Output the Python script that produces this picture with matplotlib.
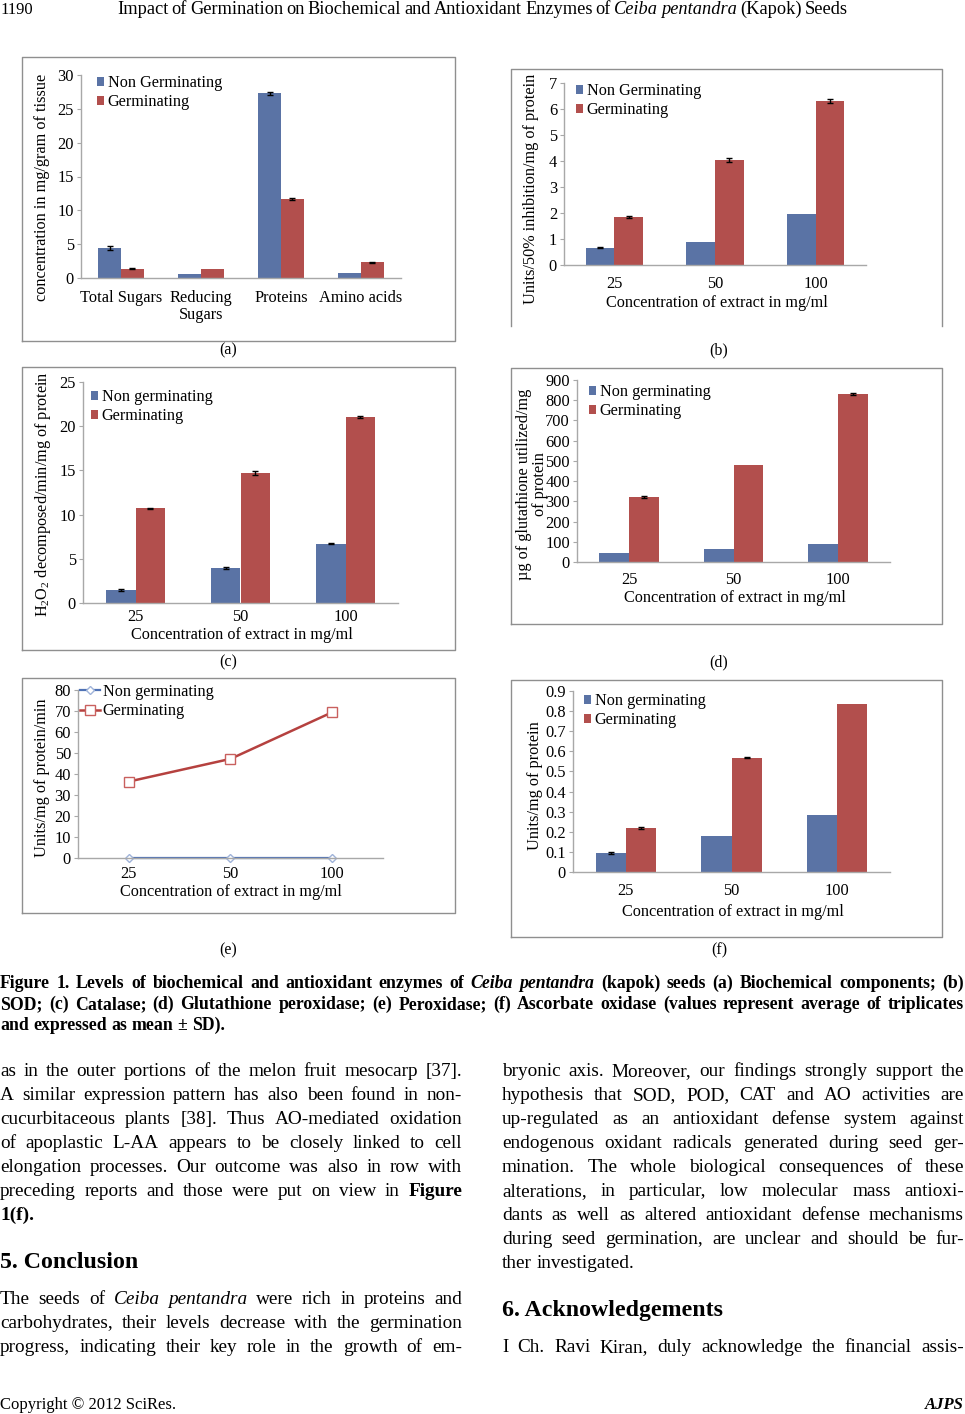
import matplotlib
matplotlib.use("Agg")
import matplotlib.pyplot as plt
import numpy as np
from matplotlib.lines import Line2D

plt.rcParams['font.family'] = ['Liberation Serif', 'DejaVu Serif']
plt.rcParams['mathtext.fontset'] = 'custom'
plt.rcParams['mathtext.rm'] = 'Liberation Serif'
plt.rcParams['mathtext.it'] = 'Liberation Serif:italic'

# ---- data ----
groups = ["25", "50", "100"]

# (a) biochemical components
comp_labels = ["Total Sugars", "Reducing\nSugars", "Proteins", "Amino acids"]
comp_ng = [4.4, 0.6, 27.3, 0.75]
comp_ng_err = [0.3, 0, 0.2, 0]
comp_g = [1.4, 1.3, 11.7, 2.3]
comp_g_err = [0.1, 0, 0.1, 0.05]

# (b) SOD
sod_ng = [0.67, 0.9, 1.96]
sod_ng_err = [0.02, 0, 0]
sod_g = [1.84, 4.04, 6.3]
sod_g_err = [0.05, 0.07, 0.07]

# (c) catalase
cat_ng = [1.5, 4.0, 6.7]
cat_ng_err = [0.1, 0.1, 0.05]
cat_g = [10.7, 14.7, 21.0]
cat_g_err = [0.05, 0.2, 0.1]

# (d) glutathione peroxidase
gpx_ng = [43, 66, 87]
gpx_ng_err = [0, 0, 0]
gpx_g = [321, 480, 831]
gpx_g_err = [3, 0, 4]

# (e) peroxidase
pod_ng = [0.1, 0.1, 0.1]
pod_g = [36.4, 47.2, 69.4]

# (f) ascorbate oxidase
ao_ng = [0.094, 0.18, 0.285]
ao_ng_err = [0.004, 0, 0]
ao_g = [0.218, 0.568, 0.837]
ao_g_err = [0.004, 0.003, 0]

BLUE = "#5a73a5"
RED = "#b24f4d"
SPINE = "#a8a8a8"
FRAME = "#8f8f8f"
TICK = 11.8
LAB = 11.7

W, H = 965, 1414
fig = plt.figure(figsize=(W / 100, H / 100), dpi=100)
fig.patch.set_facecolor("white")


def axes_px(x0, ytop, x1, ybot):
    return fig.add_axes([x0 / W, 1 - ybot / H, (x1 - x0) / W, (ybot - ytop) / H])


def fx(x):
    return x / W


def fy(y):
    return 1 - y / H


def frame(x0, y0, x1, y1, bottom=True):
    pts = [(x0, y1), (x0, y0), (x1, y0), (x1, y1)]
    if bottom:
        pts.append((x0, y1))
    xs = [fx(p[0]) for p in pts]
    ys = [fy(p[1]) for p in pts]
    fig.add_artist(Line2D(xs, ys, color=FRAME, lw=1.0, transform=fig.transFigure))


def style(ax, n, ymax, step, fmt="{:g}", pad=5):
    for s in ("top", "right"):
        ax.spines[s].set_visible(False)
    for s in ("left", "bottom"):
        ax.spines[s].set_color(SPINE)
        ax.spines[s].set_linewidth(1.0)
    ax.set_xlim(-0.5, n - 0.5)
    ax.set_ylim(0, ymax)
    ticks = np.arange(0, ymax + step / 2, step)
    ax.set_yticks(ticks)
    ax.set_yticklabels([fmt.format(t) for t in ticks])
    ax.tick_params(axis="y", length=3, color=SPINE, pad=2, labelsize=TICK)
    ax.tick_params(axis="x", length=0, pad=pad, labelsize=TICK)
    ax.set_facecolor("none")


def bars(ax, ng, ng_err, g, g_err, labels, lbl_ng, lbl_g):
    x = np.arange(len(ng))
    w = 0.285
    ek = dict(elinewidth=1, capthick=1, ecolor="black")
    ax.bar(x - w / 2, ng, w, color=BLUE, label=lbl_ng,
           yerr=[e if e > 0 else np.nan for e in ng_err], capsize=2.5, error_kw=ek)
    ax.bar(x + w / 2, g, w, color=RED, label=lbl_g,
           yerr=[e if e > 0 else np.nan for e in g_err], capsize=2.5, error_kw=ek)
    ax.set_xticks(x)
    ax.set_xticklabels(labels, linespacing=1.05)


def legend(ax, px, py, line=False):
    kw = dict(loc="upper left", bbox_to_anchor=(fx(px), fy(py)), bbox_transform=fig.transFigure,
              frameon=False, fontsize=LAB, borderaxespad=0, borderpad=0, labelspacing=0.2,
              handletextpad=0.2)
    if line:
        ax.legend(handlelength=1.2, **kw)
    else:
        ax.legend(handlelength=0.45, handleheight=0.45, **kw)


def vlabel(x, y, s):
    fig.text(fx(x), fy(y), s, rotation=90, ha="center", va="center", fontsize=LAB,
             multialignment="center", linespacing=1.0)


def hlabel(x, y, s):
    fig.text(fx(x), fy(y), s, ha="center", va="center", fontsize=LAB)


# ---- (a) ----
frame(22, 57, 455, 341)
ax = axes_px(81, 75, 401, 278)
bars(ax, comp_ng, comp_ng_err, comp_g, comp_g_err, comp_labels, "Non Germinating", "Germinating")
style(ax, 4, 30, 5, pad=9)
legend(ax, 97, 75)
vlabel(42, 187, "concentration in mg/gram of tissue")

# ---- (b) ----
frame(511, 69, 942, 326, bottom=False)
ax = axes_px(564, 83, 866, 265)
bars(ax, sod_ng, sod_ng_err, sod_g, sod_g_err, groups, "Non Germinating", "Germinating")
style(ax, 3, 7, 1, pad=8)
legend(ax, 576, 83)
vlabel(531, 189, "Units/50% inhibition/mg of protein")
hlabel(717, 303, "Concentration of extract in mg/ml")

# ---- (c) ----
frame(22, 367, 455, 650)
ax = axes_px(83, 382, 398, 603)
bars(ax, cat_ng, cat_ng_err, cat_g, cat_g_err, groups, "Non germinating", "Germinating")
style(ax, 3, 25, 5, pad=4)
legend(ax, 91, 389)
vlabel(43, 494, r"H$_2$O$_2$ decomposed/min/mg of protein")
hlabel(242, 635, "Concentration of extract in mg/ml")

# ---- (d) ----
frame(511, 368, 942, 624)
ax = axes_px(577, 380, 890, 562)
bars(ax, gpx_ng, gpx_ng_err, gpx_g, gpx_g_err, groups, "Non germinating", "Germinating")
style(ax, 3, 900, 100, pad=7)
legend(ax, 589, 384)
vlabel(532, 484, "µg of glutathione utilized/mg\nof protein")
hlabel(735, 598, "Concentration of extract in mg/ml")

# ---- (e) ----
frame(22, 678, 455, 913)
ax = axes_px(78, 690, 383, 858)
xe = np.arange(len(groups))
ax.plot(xe, pod_ng, color="#4f72b5", lw=1.6, marker="D", markersize=4.5,
        markerfacecolor="white", markeredgecolor="#9fb3d9", label="Non germinating")
ax.plot(xe, pod_g, color="#b5413f", lw=1.8, marker="s", markersize=7,
        markerfacecolor="white", markeredgecolor="#c9605e", label="Germinating")
ax.set_xticks(xe)
ax.set_xticklabels(groups)
style(ax, 3, 80, 10, pad=6)
for l in ax.get_lines():
    l.set_clip_on(False)
legend(ax, 80, 684, line=True)
vlabel(42, 778, "Units/mg of protein/min")
hlabel(231, 892, "Concentration of extract in mg/ml")

# ---- (f) ----
frame(511, 680, 942, 937)
ax = axes_px(573, 691, 890, 872)
bars(ax, ao_ng, ao_ng_err, ao_g, ao_g_err, groups, "Non germinating", "Germinating")
style(ax, 3, 0.9, 0.1, fmt="{:.1f}", pad=8)
ax.set_yticklabels(["0"] + ["{:.1f}".format(t) for t in np.arange(0.1, 0.95, 0.1)])
legend(ax, 584, 693)
vlabel(535, 786, "Units/mg of protein")
hlabel(733, 912, "Concentration of extract in mg/ml")

# panel letters
for s, x, y in [("(a)", 228, 350), ("(b)", 719, 350), ("(c)", 228, 662),
                ("(d)", 719, 662), ("(e)", 228, 950), ("(f)", 719, 950)]:
    fig.text(fx(x), fy(y), s, ha="center", va="center", fontsize=11.5)

# ---- page text ----
renderer = fig.canvas.get_renderer()


def draw_line(segs, x0, x1, yb, size, justify=True):
    items = []
    for text, wt, st in segs:
        for w in text.split():
            t = fig.text(0, fy(yb), w, ha="left", va="baseline", fontsize=size,
                         fontweight=wt, fontstyle=st)
            items.append(t)
    widths = [t.get_window_extent(renderer=renderer).width for t in items]
    space = 0.25 * size * 100 / 72
    if justify and len(items) > 1:
        gap = (x1 - x0 - sum(widths)) / (len(items) - 1)
    else:
        gap = space
    x = x0
    for t, w in zip(items, widths):
        t.set_x(fx(x))
        x += w + gap


N, B, I = "normal", "bold", "italic"

# header
fig.text(0, fy(14), "1190", ha="left", va="baseline", fontsize=12)
draw_line([("Impact of Germination on Biochemical and Antioxidant Enzymes of", N, N),
           ("Ceiba pentandra", N, I), ("(Kapok) Seeds", N, N)], 117, 848, 14, 13.2)

# caption
cap_size = 12.8
draw_line([("Figure 1. Levels of biochemical and antioxidant enzymes of", B, N),
           ("Ceiba pentandra", B, I),
           ("(kapok) seeds (a) Biochemical components; (b)", B, N)], 0, 964, 988, cap_size)
draw_line([("SOD; (c) Catalase; (d) Glutathione peroxidase; (e) Peroxidase; (f) Ascorbate "
            "oxidase (values represent average of triplicates", B, N)], 0, 964, 1009, cap_size)
draw_line([("and expressed as mean ± SD).", B, N)], 0, 964, 1030, cap_size, justify=False)

body = 13.9
left_lines = [
    ([("as in the outer portions of the melon fruit mesocarp [37].", N, N)], True),
    ([("A similar expression pattern has also been found in non-", N, N)], True),
    ([("cucurbitaceous plants [38]. Thus AO-mediated oxidation", N, N)], True),
    ([("of apoplastic L-AA appears to be closely linked to cell", N, N)], True),
    ([("elongation processes. Our outcome was also in row with", N, N)], True),
    ([("preceding reports and those were put on view in", N, N), ("Figure", B, N)], True),
    ([("1(f).", B, N)], False),
]
for i, (segs, j) in enumerate(left_lines):
    draw_line(segs, 0, 462, 1076 + 24 * i, body, justify=j)

fig.text(0, fy(1268), "5. Conclusion", ha="left", va="baseline", fontsize=17.2, fontweight="bold")

left2 = [
    [("The seeds of", N, N), ("Ceiba pentandra", N, I), ("were rich in proteins and", N, N)],
    [("carbohydrates, their levels decrease with the germination", N, N)],
    [("progress, indicating their key role in the growth of em-", N, N)],
]
for i, segs in enumerate(left2):
    draw_line(segs, 0, 462, 1304 + 24 * i, body)

right_lines = [
    "bryonic axis. Moreover, our findings strongly support the",
    "hypothesis that SOD, POD, CAT and AO activities are",
    "up-regulated as an antioxidant defense system against",
    "endogenous oxidant radicals generated during seed ger-",
    "mination. The whole biological consequences of these",
    "alterations, in particular, low molecular mass antioxi-",
    "dants as well as altered antioxidant defense mechanisms",
    "during seed germination, are unclear and should be fur-",
    "ther investigated.",
]
for i, s in enumerate(right_lines):
    draw_line([(s, N, N)], 502, 964, 1076 + 24 * i, body, justify=(i < len(right_lines) - 1))

fig.text(fx(502), fy(1316), "6. Acknowledgements", ha="left", va="baseline",
         fontsize=17.2, fontweight="bold")
draw_line([("I Ch. Ravi Kiran, duly acknowledge the financial assis-", N, N)], 502, 964, 1352, body)

# footer
fig.text(0, fy(1409), "Copyright © 2012 SciRes.", ha="left", va="baseline", fontsize=12)
fig.text(fx(964), fy(1409), "AJPS", ha="right", va="baseline", fontsize=12,
         fontweight="bold", fontstyle="italic")

fig.savefig("out.png", dpi=100)
